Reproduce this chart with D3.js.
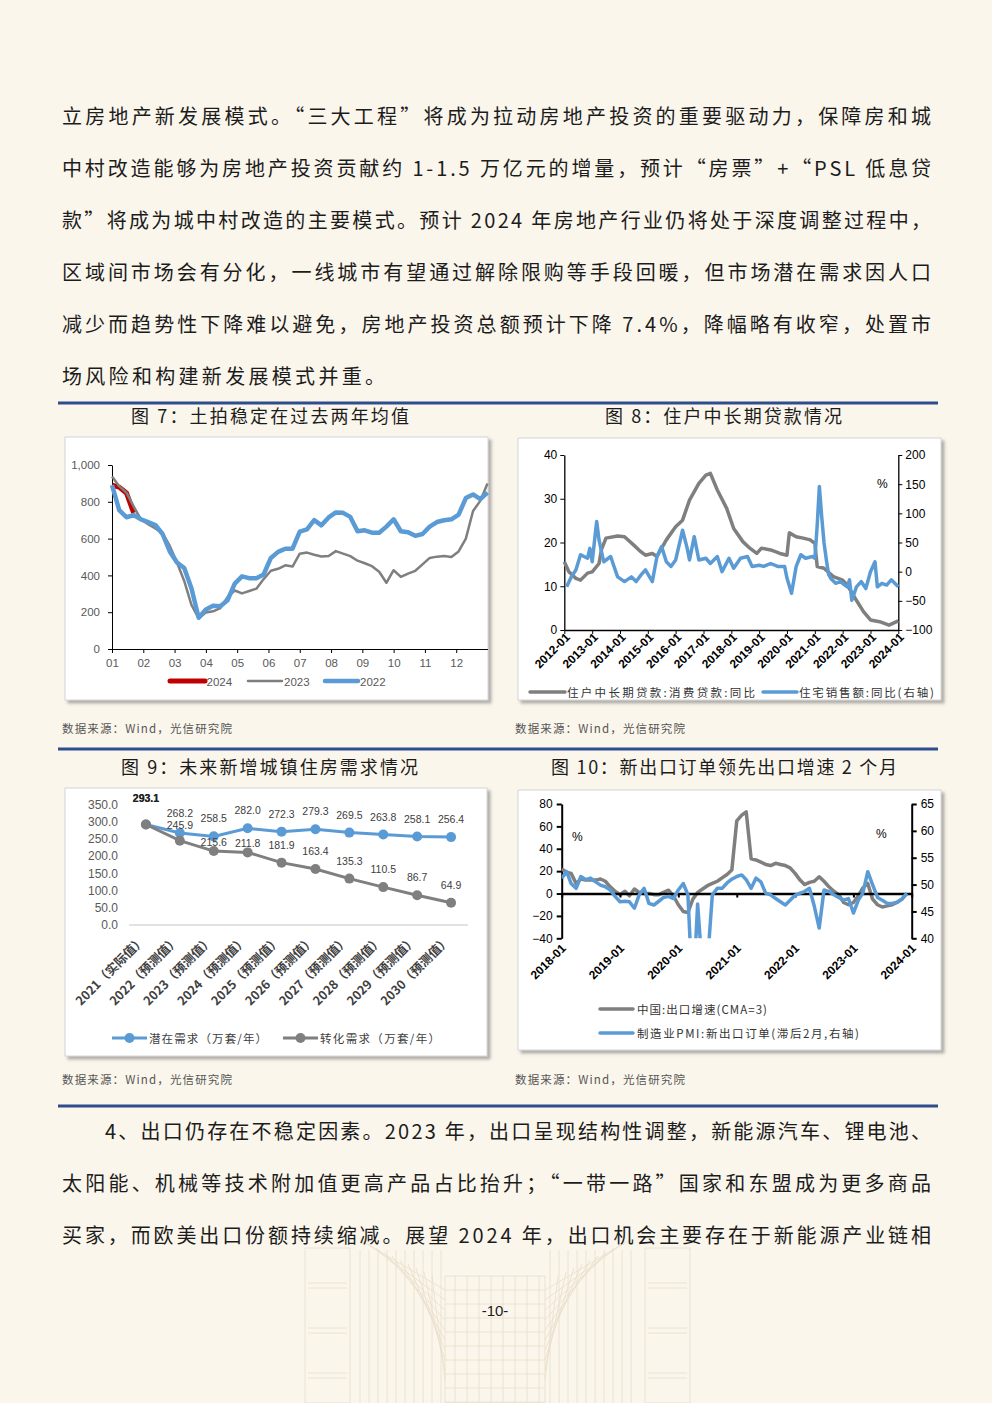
<!DOCTYPE html>
<html><head><meta charset="utf-8">
<script src="https://cdn.jsdelivr.net/npm/d3@7"></script>
<style>body{margin:0;background:#fbf6ec}svg{display:block}</style>
</head><body>
<script>
// ---------------- DATA ----------------
const para1 = [
  "立房地产新发展模式。“三大工程”将成为拉动房地产投资的重要驱动力，保障房和城",
  "中村改造能够为房地产投资贡献约 1-1.5 万亿元的增量，预计“房票”+“PSL 低息贷",
  "款”将成为城中村改造的主要模式。预计 2024 年房地产行业仍将处于深度调整过程中，",
  "区域间市场会有分化，一线城市有望通过解除限购等手段回暖，但市场潜在需求因人口",
  "减少而趋势性下降难以避免，房地产投资总额预计下降 7.4%，降幅略有收窄，处置市",
  "场风险和构建新发展模式并重。"
];
const para2 = [
  "4、出口仍存在不稳定因素。2023 年，出口呈现结构性调整，新能源汽车、锂电池、",
  "太阳能、机械等技术附加值更高产品占比抬升；“一带一路”国家和东盟成为更多商品",
  "买家，而欧美出口份额持续缩减。展望 2024 年，出口机会主要存在于新能源产业链相"
];
const titles = ["图 7：土拍稳定在过去两年均值","图 8：住户中长期贷款情况","图 9：未来新增城镇住房需求情况","图 10：新出口订单领先出口增速 2 个月"];
const sourceText = "数据来源：Wind，光信研究院";
const pageNumber = "-10-";

// Chart 7: land auction (weekly, 52 weeks)
const landMonths = ["01","02","03","04","05","06","07","08","09","10","11","12"];
const landYTicks = [0,200,400,600,800,1000];
const landSeriesNames = ["2024","2023","2022"];
const land2024 = [890,880,848,740];
const land2023 = [937,885,850,775,705,678,655,630,560,470,370,240,167,198,205,222,282,318,302,315,328,380,425,436,455,448,518,524,512,503,505,532,518,505,480,466,450,420,360,428,392,410,425,460,495,502,505,500,530,600,750,805,900];
const land2022 = [891,755,716,728,705,690,674,625,530,470,440,330,170,215,235,232,265,355,395,385,385,405,495,528,545,545,638,650,700,672,715,742,740,718,640,645,632,632,665,705,640,635,615,625,665,690,700,705,730,820,840,815,850];

// Chart 8: household loans vs residential sales
const loanXTicks = ["2012-01","2013-01","2014-01","2015-01","2016-01","2017-01","2018-01","2019-01","2020-01","2021-01","2022-01","2023-01","2024-01"];
const loanYTicks = [0,10,20,30,40];
const salesYTicks = [-100,-50,0,50,100,150,200];
const loanNames = ["住户中长期贷款:消费贷款:同比","住宅销售额:同比(右轴)"];
const loanDates = ["2012-01","2012-03","2012-06","2012-08","2012-11","2013-01","2013-04","2013-05","2013-07","2013-12","2014-03","2014-07","2014-10","2014-12","2015-03","2015-05","2015-09","2016-01","2016-04","2016-07","2016-11","2017-02","2017-04","2017-07","2017-11","2018-02","2018-06","2018-09","2018-12","2019-02","2019-06","2019-10","2020-01","2020-02","2020-05","2020-08","2020-11","2021-01","2021-02","2021-05","2021-09","2022-01","2022-03","2022-06","2022-10","2023-01","2023-05","2023-09","2024-01"];
const loanValues = [15.6,13.3,11.8,11.4,13.0,13.3,15.2,18.3,21.0,21.5,21.3,19.4,17.9,17.1,17.5,16.8,20.6,23.6,25.1,29.7,33.5,35.4,35.8,32.0,27.8,23.2,20.2,18.7,17.5,18.7,18.3,17.5,17.1,22.2,21.3,21.0,20.6,19.8,14.5,14.1,12.2,11.4,10.3,7.6,4.2,2.3,1.9,1.1,2.1];
const salesDates = ["2012-02","2012-04","2012-06","2012-08","2012-11","2012-12","2013-01","2013-03","2013-04","2013-06","2013-09","2013-10","2013-12","2014-03","2014-06","2014-08","2014-10","2014-12","2015-03","2015-05","2015-07","2015-09","2015-11","2016-01","2016-04","2016-06","2016-07","2016-09","2016-11","2017-02","2017-04","2017-07","2017-09","2017-12","2018-02","2018-05","2018-08","2018-10","2019-01","2019-03","2019-06","2019-09","2019-12","2020-01","2020-03","2020-05","2020-07","2020-09","2020-12","2021-01","2021-02","2021-03","2021-04","2021-05","2021-06","2021-07","2021-08","2021-10","2021-12","2022-03","2022-04","2022-05","2022-07","2022-09","2022-11","2023-01","2023-03","2023-04","2023-06","2023-08","2023-10","2024-01"];
const salesValues = [-26,-9,3,29,23,40,17,86,54,17,26,14,-9,-17,-9,-17,-6,3,-17,26,43,17,9,20,71,40,20,60,20,23,14,26,0,23,6,23,26,9,11,9,14,9,9,-11,-37,9,29,23,26,23,80,146,94,50,20,-5,-12,-20,-17,-26,-14,-49,-26,-17,-29,0,17,-26,-20,-23,-14,-26];

// Chart 9: urban housing demand
const demandYears = ["2021（实际值）","2022（预测值）","2023（预测值）","2024（预测值）","2025（预测值）","2026（预测值）","2027（预测值）","2028（预测值）","2029（预测值）","2030（预测值）"];
const demandYTicks = [0,50,100,150,200,250,300,350];
const demandNames = ["潜在需求（万套/年）","转化需求（万套/年）"];
const potentialDemand = [293.1,268.2,258.5,282.0,272.3,279.3,269.5,263.8,258.1,256.4];
const convertedDemand = [293.1,245.9,215.6,211.8,181.9,163.4,135.3,110.5,86.7,64.9];

// Chart 10: export growth vs PMI new export orders (monthly from 2018-01)
const exportStart = "2018-01";
const exportXTicks = ["2018-01","2019-01","2020-01","2021-01","2022-01","2023-01","2024-01"];
const exportYTicksL = [-40,-20,0,20,40,60,80];
const exportYTicksR = [40,45,50,55,60,65];
const exportNames = ["中国:出口增速(CMA=3)","制造业PMI:新出口订单(滞后2月,右轴)"];
const exportGrowth = [22,19,18,9,13,12,12,12,13,11,6,2,-1,2,-2,4,1,0,0,-1,-1,1,3,-2,-10,-16,-17,-5,1,4,7,9,11,14,17,21,65,70,73,31,30,28,26,25,27,26,25,23,18,12,8,10,11,15,11,6,2,-1,-8,-10,-8,-2,5,9,-5,-10,-12,-11,-10,-8,-5,0];
const pmiNewExport = [51.2,52.4,50.2,49.3,51.5,50.9,51.2,50.5,49.9,49.6,49.0,47.8,46.8,46.9,46.8,45.6,48.1,49.3,46.5,46.2,46.9,47.6,47.8,47.4,49.0,50.2,48.1,28.7,46.4,33.5,35.3,48.1,49.3,49.3,50.3,51.0,51.5,51.8,50.9,49.3,51.2,50.5,48.4,48.1,47.4,46.8,46.2,47.1,48.0,48.4,48.7,49.3,46.0,41.9,49.0,48.7,48.1,47.6,47.1,47.4,44.7,47.1,48.4,52.4,50.0,47.6,47.1,46.5,46.5,46.7,47.3,48.4];

// ---------------- STYLE ----------------
const BLUE="#5b9bd5", GRAY="#7f7f7f", RED="#c00000", NAVY="#2f4d8c";
const CJK="'Noto Sans CJK SC', sans-serif", LAT="'Liberation Sans', Arial, sans-serif";

const W=992,H=1403;
const svg=d3.select("body").append("svg").attr("width",W).attr("height",H);
svg.append("rect").attr("width",W).attr("height",H).attr("fill","#fbf6ec");
const defs=svg.append("defs");
defs.append("filter").attr("id","shadow").attr("x","-5%").attr("y","-5%").attr("width","115%").attr("height","115%")
  .append("feDropShadow").attr("dx",3).attr("dy",3).attr("stdDeviation",1.8).attr("flood-color","#6f6f6f").attr("flood-opacity",0.55);

// faint background architecture sketch (decoration)
{
  const deco=svg.append("g").attr("stroke","#e3d8c2").attr("stroke-width",0.8).attr("fill","none").attr("opacity",0.8);
  // central tower
  deco.append("rect").attr("x",445).attr("y",1276).attr("width",100).attr("height",127);
  d3.range(455,545,12).forEach(x=>deco.append("line").attr("x1",x).attr("x2",x).attr("y1",1276).attr("y2",1403));
  d3.range(1290,1403,14).forEach(y=>deco.append("line").attr("x1",445).attr("x2",545).attr("y1",y).attr("y2",y));
  // side buildings
  [[305,1248,45],[645,1248,45]].forEach(b=>{
    deco.append("rect").attr("x",b[0]).attr("y",b[1]).attr("width",b[2]).attr("height",1403-b[1]);
    d3.range(b[1]+15,1403,45).forEach(y=>{
      deco.append("line").attr("x1",b[0]+3).attr("x2",b[0]+b[2]-3).attr("y1",y+20).attr("y2",y+20);
      deco.append("line").attr("x1",b[0]+3).attr("x2",b[0]+b[2]-3).attr("y1",y+25).attr("y2",y+25);
    });
  });
  // perspective lines
  d3.range(0,10).forEach(i=>{
    deco.append("line").attr("x1",360+i*8).attr("x2",445).attr("y1",1240+i*4).attr("y2",1290+i*10);
    deco.append("line").attr("x1",630-i*8).attr("x2",545).attr("y1",1240+i*4).attr("y2",1290+i*10);
  });
  d3.range(360,445,9).forEach(x=>deco.append("line").attr("x1",x).attr("x2",x).attr("y1",1250).attr("y2",1403));
  d3.range(550,640,9).forEach(x=>deco.append("line").attr("x1",x).attr("x2",x).attr("y1",1250).attr("y2",1403));
}

// ---------------- TEXT ----------------
function textLine(str,x,y,opt){
  const t=svg.append("text").attr("x",x).attr("y",y).text(str)
    .attr("font-family",opt.family||CJK).attr("font-size",opt.size||20).attr("fill",opt.fill||"#1c1c1c");
  if(opt.len){t.attr("textLength",opt.len).attr("lengthAdjust","spacing");}
  if(opt.anchor) t.attr("text-anchor",opt.anchor);
  if(opt.weight) t.attr("font-weight",opt.weight);
  return t;
}
para1.forEach((s,i)=>textLine(s,62,124+i*52,{len:i<5?869:323}));
para2.forEach((s,i)=>textLine(s,i===0?105:62,1139+i*52,{len:i===0?826:869}));
textLine(pageNumber,495,1316,{size:15,anchor:"middle",family:LAT});

// separators
[403,749,1106].forEach(y=>svg.append("line").attr("x1",58).attr("x2",938).attr("y1",y).attr("y2",y).attr("stroke",NAVY).attr("stroke-width",3));
// titles
textLine(titles[0],131,423,{size:18,len:278});
textLine(titles[1],605,423,{size:18,len:237});
textLine(titles[2],121,774,{size:18,len:297});
textLine(titles[3],551,774,{size:18,len:346});
// sources
[[62,733],[515,733],[62,1084],[515,1084]].forEach(p=>textLine(sourceText,p[0],p[1],{size:11.5,fill:"#555",len:170}));

function box(x,y,w,h){svg.append("rect").attr("x",x).attr("y",y).attr("width",w).attr("height",h).attr("fill","#fff").attr("stroke","#d4d4d4").attr("filter","url(#shadow)");}
function styleAxis(g,color,size,family,weight){
  g.select(".domain").attr("stroke","#000");
  g.selectAll(".tick line").attr("stroke","#000");
  g.selectAll("text").attr("fill",color).attr("font-size",size).attr("font-family",family).attr("font-weight",weight||400);
}

// ---------------- CHART 7 ----------------
box(65,437,423,263);
{
  const g=svg.append("g");
  const x=d3.scaleLinear().domain([0,12]).range([112,487.5]);
  const y=d3.scaleLinear().domain([0,1000]).range([649,465]);
  const wk=i=>i*12/52;
  const ya=g.append("g").attr("transform","translate(112,0)").call(d3.axisLeft(y).tickValues(landYTicks).tickSize(4).tickSizeOuter(0).tickPadding(8).tickFormat(d3.format(",")));
  styleAxis(ya,"#595959",11.5,LAT);
  const xa=g.append("g").attr("transform","translate(0,649)").call(d3.axisBottom(x).tickValues(d3.range(12)).tickSize(4).tickSizeOuter(0).tickPadding(6).tickFormat(i=>landMonths[i]));
  styleAxis(xa,"#595959",11.5,LAT);
  const line=d3.line().x((d,i)=>x(wk(i))).y(d=>y(d)).curve(d3.curveLinear);
  const series=[[land2024,RED,5],[land2023,GRAY,2.5],[land2022,BLUE,4.5]];
  series.forEach(s=>g.append("path").datum(s[0]).attr("d",line).attr("fill","none").attr("stroke",s[1]).attr("stroke-width",s[2]).attr("stroke-linejoin","round"));
  const lg=[[170,205,206.5],[248,282,284],[325,358,360]];
  series.forEach((s,i)=>{
    g.append("line").attr("x1",lg[i][0]).attr("x2",lg[i][1]).attr("y1",681).attr("y2",681).attr("stroke",s[1]).attr("stroke-width",s[2]).attr("stroke-linecap","round");
    g.append("text").attr("x",lg[i][2]).attr("y",685.5).text(landSeriesNames[i]).attr("font-size",11.5).attr("font-family",LAT).attr("fill","#595959");
  });
}

// ---------------- CHART 8 ----------------
box(518,438,423,262);
{
  const g=svg.append("g");
  const p=d3.timeParse("%Y-%m");
  const x=d3.scaleTime().domain([p("2012-01"),p("2024-01")]).range([564.3,898.3]);
  const yL=d3.scaleLinear().domain([0,40]).range([630,455]);
  const yR=d3.scaleLinear().domain([-100,200]).range([630,455]);
  const la=g.append("g").attr("transform","translate(564.3,0)").call(d3.axisLeft(yL).tickValues(loanYTicks).tickSize(4).tickSizeOuter(0).tickPadding(3));
  styleAxis(la,"#000",12,LAT); la.select(".domain").attr("stroke-width",1.3);
  const ra=g.append("g").attr("transform","translate(898.3,0)").call(d3.axisRight(yR).tickValues(salesYTicks).tickSize(4).tickSizeOuter(0).tickPadding(3).tickFormat(d=>d<0?"−"+Math.abs(d):d));
  styleAxis(ra,"#000",12,LAT); ra.select(".domain").attr("stroke-width",1.3);
  const xa=g.append("g").attr("transform","translate(0,630)").call(d3.axisBottom(x).tickValues(loanXTicks.map(p)).tickSize(4).tickSizeOuter(0).tickFormat(d3.timeFormat("%Y-%m")));
  styleAxis(xa,"#000",12,LAT,700); xa.select(".domain").attr("stroke-width",1.3);
  xa.selectAll("text").attr("text-anchor","end").attr("dy","0.35em").attr("transform","translate(3,5) rotate(-45)").attr("y",0).attr("x",0);
  const ll=d3.line().x((d,i)=>x(p(loanDates[i]))).y(d=>yL(d));
  const sl=d3.line().x((d,i)=>x(p(salesDates[i]))).y(d=>yR(d));
  g.append("path").datum(loanValues).attr("d",ll).attr("fill","none").attr("stroke",GRAY).attr("stroke-width",3.5).attr("stroke-linejoin","round");
  g.append("path").datum(salesValues).attr("d",sl).attr("fill","none").attr("stroke",BLUE).attr("stroke-width",3.5).attr("stroke-linejoin","round");
  g.append("text").attr("x",877).attr("y",488).text("%").attr("font-size",12).attr("font-family",LAT);
  const lg=[[530,565,567,188,GRAY],[763,797,799,135,BLUE]];
  lg.forEach((l,i)=>{
    g.append("line").attr("x1",l[0]).attr("x2",l[1]).attr("y1",692).attr("y2",692).attr("stroke",l[4]).attr("stroke-width",3.5).attr("stroke-linecap","round");
    g.append("text").attr("x",l[2]).attr("y",696.5).text(loanNames[i]).attr("font-size",11.5).attr("font-family",CJK).attr("fill","#333").attr("textLength",l[3]).attr("lengthAdjust","spacing");
  });
}

// ---------------- CHART 9 ----------------
box(65,788,422,268);
{
  const g=svg.append("g");
  const x=d3.scalePoint().domain(demandYears).range([129,468]).padding(0.5);
  const y=d3.scaleLinear().domain([0,350]).range([925,805]);
  demandYTicks.forEach(v=>g.append("text").attr("x",118).attr("y",y(v)+4).attr("text-anchor","end").text(d3.format(".1f")(v)).attr("font-size",12).attr("font-family",LAT).attr("fill","#595959"));
  g.append("line").attr("x1",129).attr("x2",468).attr("y1",925).attr("y2",925).attr("stroke","#d9d9d9").attr("stroke-width",1.5);
  demandYears.forEach(c=>g.append("text").attr("text-anchor","end").attr("transform",`translate(${x(c)-3},${938}) rotate(-45)`).attr("dy","0.35em").text(c).attr("font-size",12.5).attr("font-weight",700).attr("font-family",CJK).attr("fill","#404040"));
  const line=d3.line().x((d,i)=>x(demandYears[i])).y(d=>y(d));
  const ser=[[potentialDemand,BLUE],[convertedDemand,GRAY]];
  ser.forEach(s=>{
    g.append("path").datum(s[0]).attr("d",line).attr("fill","none").attr("stroke",s[1]).attr("stroke-width",3);
    s[0].forEach((v,i)=>g.append("circle").attr("cx",x(demandYears[i])).attr("cy",y(v)).attr("r",5).attr("fill",s[1]));
  });
  // label offsets above the point (drawing constants)
  const off=(k,i)=> i===0?27:(k===0?(i===1?20:18):(i===1?16:(i===2||i===3?9:18)));
  ser.forEach((s,k)=>s[0].forEach((v,i)=>g.append("text").attr("x",x(demandYears[i])).attr("y",y(v)-off(k,i)+4).attr("text-anchor","middle").text(d3.format(".1f")(v)).attr("font-size",10.5).attr("font-family",LAT).attr("fill",i===0?"#222":"#404040").attr("font-weight",i===0?700:400)));
  const lg=[[112,147,129.5,149,118],[283,318,300.5,320,120]];
  ser.forEach((s,i)=>{
    g.append("line").attr("x1",lg[i][0]).attr("x2",lg[i][1]).attr("y1",1038).attr("y2",1038).attr("stroke",s[1]).attr("stroke-width",3);
    g.append("circle").attr("cx",lg[i][2]).attr("cy",1038).attr("r",5).attr("fill",s[1]);
    g.append("text").attr("x",lg[i][3]).attr("y",1042.5).text(demandNames[i]).attr("font-size",11.5).attr("font-family",CJK).attr("fill","#404040").attr("textLength",lg[i][4]).attr("lengthAdjust","spacing");
  });
}

// ---------------- CHART 10 ----------------
box(518,790,423,260);
{
  const g=svg.append("g");
  const p=d3.timeParse("%Y-%m");
  const t0=p(exportStart);
  const x=d3.scaleTime().domain([p("2018-01"),p("2024-01")]).range([561.7,911.7]);
  const yL=d3.scaleLinear().domain([-40,80]).range([938.3,804]);
  const yR=d3.scaleLinear().domain([40,65]).range([938.3,804]);
  defs.append("clipPath").attr("id","clip10").append("rect").attr("x",561.7).attr("y",804).attr("width",350).attr("height",134.3);
  const la=g.append("g").attr("transform","translate(561.7,0)").call(d3.axisLeft(yL).tickValues(exportYTicksL).tickSize(5).tickSizeOuter(0).tickPadding(4).tickFormat(d=>d<0?"−"+Math.abs(d):d));
  styleAxis(la,"#000",12,LAT); la.select(".domain").attr("stroke-width",2); la.selectAll(".tick line").attr("stroke-width",2);
  const ra=g.append("g").attr("transform","translate(911.7,0)").call(d3.axisRight(yR).tickValues(exportYTicksR).tickSize(5).tickSizeOuter(0).tickPadding(4));
  styleAxis(ra,"#000",12,LAT); ra.select(".domain").attr("stroke-width",2); ra.selectAll(".tick line").attr("stroke-width",2);
  exportXTicks.forEach(d=>g.append("text").attr("text-anchor","end").attr("transform",`translate(${x(p(d))+2},946) rotate(-45)`).attr("dy","0.35em").text(d).attr("font-size",12).attr("font-weight",700).attr("font-family",LAT).attr("fill","#000"));
  const xl=d3.line().x((d,i)=>x(d3.timeMonth.offset(t0,i)));
  g.append("path").datum(exportGrowth).attr("d",xl.y(d=>yL(d))).attr("fill","none").attr("stroke",GRAY).attr("stroke-width",3.5).attr("stroke-linejoin","round").attr("clip-path","url(#clip10)");
  const za=g.append("g").attr("transform",`translate(0,${yL(0)})`).call(d3.axisBottom(x).tickValues(exportXTicks.map(p)).tickSize(4).tickSizeOuter(0).tickFormat(""));
  za.select(".domain").attr("stroke","#000").attr("stroke-width",2.5); za.selectAll(".tick line").attr("stroke","#000").attr("stroke-width",2);
  g.append("path").datum(pmiNewExport).attr("d",d3.line().x((d,i)=>x(d3.timeMonth.offset(t0,i))).y(d=>yR(d))).attr("fill","none").attr("stroke",BLUE).attr("stroke-width",3.5).attr("stroke-linejoin","round").attr("clip-path","url(#clip10)");
  g.append("text").attr("x",572).attr("y",841).text("%").attr("font-size",12).attr("font-family",LAT);
  g.append("text").attr("x",876).attr("y",838).text("%").attr("font-size",12).attr("font-family",LAT);
  const lg=[[1009,GRAY,130],[1033,BLUE,222]];
  lg.forEach((l,i)=>{
    g.append("line").attr("x1",600).attr("x2",633).attr("y1",l[0]).attr("y2",l[0]).attr("stroke",l[1]).attr("stroke-width",3.5).attr("stroke-linecap","round");
    g.append("text").attr("x",637).attr("y",l[0]+4.5).text(exportNames[i]).attr("font-size",11.5).attr("font-family",CJK).attr("fill","#333").attr("textLength",l[2]).attr("lengthAdjust","spacing");
  });
}
</script>
</body></html>
